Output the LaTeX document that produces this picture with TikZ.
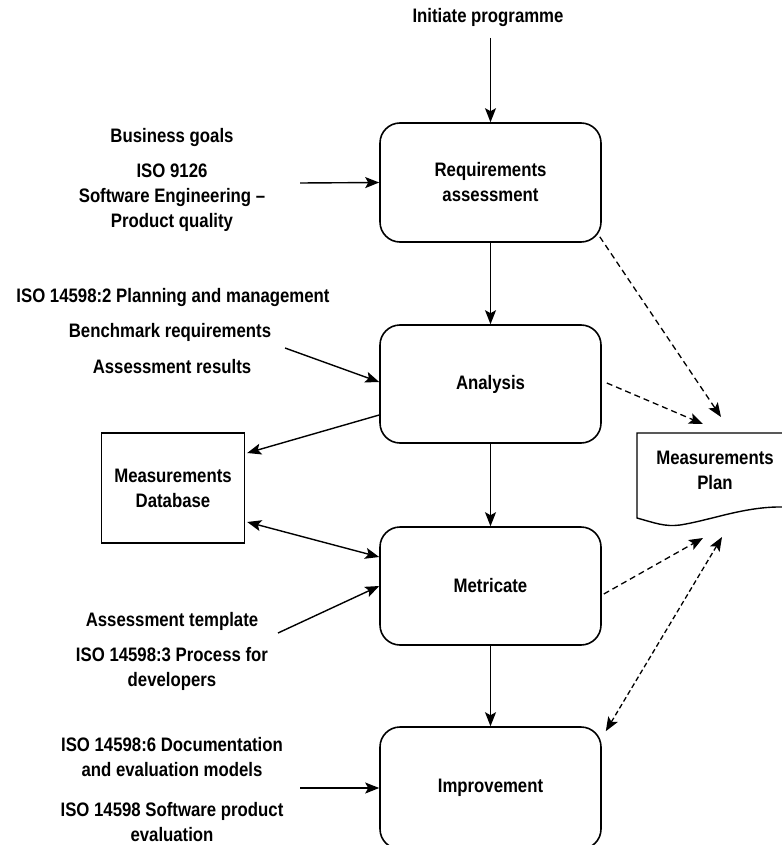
\documentclass[tikz,border=0pt]{standalone}
\usepackage{fontspec}
\setmainfont{Liberation Sans}[FakeStretch=0.86]
\usetikzlibrary{arrows.meta}
\begin{document}
\begin{tikzpicture}[x=1pt,y=-1pt,
  font=\fontsize{19.5}{25}\selectfont\bfseries,
  proc/.style={draw,line width=1.6pt,rounded corners=20pt,minimum width=221pt,align=center,inner sep=0pt},
  lab/.style={align=center,inner sep=0pt},
  arr/.style={line width=1.4pt,-{Stealth[length=14pt,width=11pt,inset=3pt]}},
  darr/.style={line width=1.3pt,dash pattern=on 6pt off 4pt,-{Stealth[length=14pt,width=11pt,inset=3pt]}},
  ddarr/.style={line width=1.3pt,dash pattern=on 5pt off 3pt,{Stealth[length=14pt,width=11pt,inset=3pt]}-{Stealth[length=14pt,width=11pt,inset=3pt]}},
  dbarr/.style={line width=1.4pt,{Stealth[length=14pt,width=11pt,inset=3pt]}-{Stealth[length=14pt,width=11pt,inset=3pt]}}]
\useasboundingbox (0,0) rectangle (781,845);

% process boxes
\node[proc,minimum height=119pt] (req) at (490.5,182.5) {Requirements\\assessment};
\node[proc,minimum height=118pt] (ana) at (490.5,384) {Analysis};
\node[proc,minimum height=118pt] (met) at (490.5,586) {Metricate};
\node[proc,minimum height=122pt] (imp) at (490.5,788) {Improvement};

% database
\node[draw,line width=1.4pt,minimum width=143pt,minimum height=110pt,align=center,inner sep=0pt] (db) at (173,488) {Measurements\\Database};

% measurements plan (document shape, cut at the right edge)
\draw[line width=1.4pt] (785,433) -- (637,433) -- (637,518)
  .. controls (655,523) and (665,527) .. (680,525)
  .. controls (712,520) and (745,506) .. (785,507);
\node[lab] (plan) at (715,470) {Measurements\\Plan};
\coordinate (p1) at (721,417);
\coordinate (p2) at (703,424);
\coordinate (p3) at (703,538);
\coordinate (p4) at (722,537);

% labels
\node[lab] (init) at (488,18) {Initiate programme};
\node[lab] (bg) at (172,138) {Business goals};
\node[lab] (iso9126) at (172,197.5) {ISO 9126\\Software Engineering –\\Product quality};
\node[lab] (iso2) at (173,297) {ISO 14598:2 Planning and management};
\node[lab] (bench) at (170,332) {Benchmark requirements};
\node[lab] (assr) at (172,367) {Assessment results};
\node[lab] (tmpl) at (172,621) {Assessment template};
\node[lab] (iso3) at (172,668.5) {ISO 14598:3 Process for\\developers};
\node[lab] (iso6) at (172,757.5) {ISO 14598:6 Documentation\\and evaluation models};
\node[lab] (iso) at (172,822.5) {ISO 14598 Software product\\evaluation};

% free ends of input arrows
\coordinate (in0) at (490.5,38);
\coordinate (in1) at (300,183);
\coordinate (in2) at (285,348);
\coordinate (in3) at (278,633);
\coordinate (in4) at (300,788);

% solid connectors
\draw[arr] (in0) -- (req.north);
\draw[arr] (in1) -- (req.west);
\draw[arr] (req) -- (ana);
\draw[arr] (in2) -- ([yshift=2pt]ana.west);
\draw[arr] (ana) -- (met);
\draw[arr] (met) -- (imp);
\draw[arr] ([yshift=-31pt]ana.west) -- ([xshift=2pt,yshift=35pt]db.east);
\draw[dbarr] ([xshift=2pt,yshift=-34pt]db.east) -- ([yshift=29pt]met.west);
\draw[arr] (in3) -- (met.west);
\draw[arr] (in4) -- (imp.west);

% dashed connectors
\draw[darr] ([xshift=-2pt,yshift=6pt]req.south east) -- (p1);
\draw[darr] ([xshift=5pt,yshift=1pt]ana.east) -- (p2);
\draw[darr] ([xshift=2pt,yshift=-8pt]met.east) -- (p3);
\draw[ddarr] ([xshift=4pt,yshift=-5pt]imp.north east) -- (p4);
\end{tikzpicture}
\end{document}
